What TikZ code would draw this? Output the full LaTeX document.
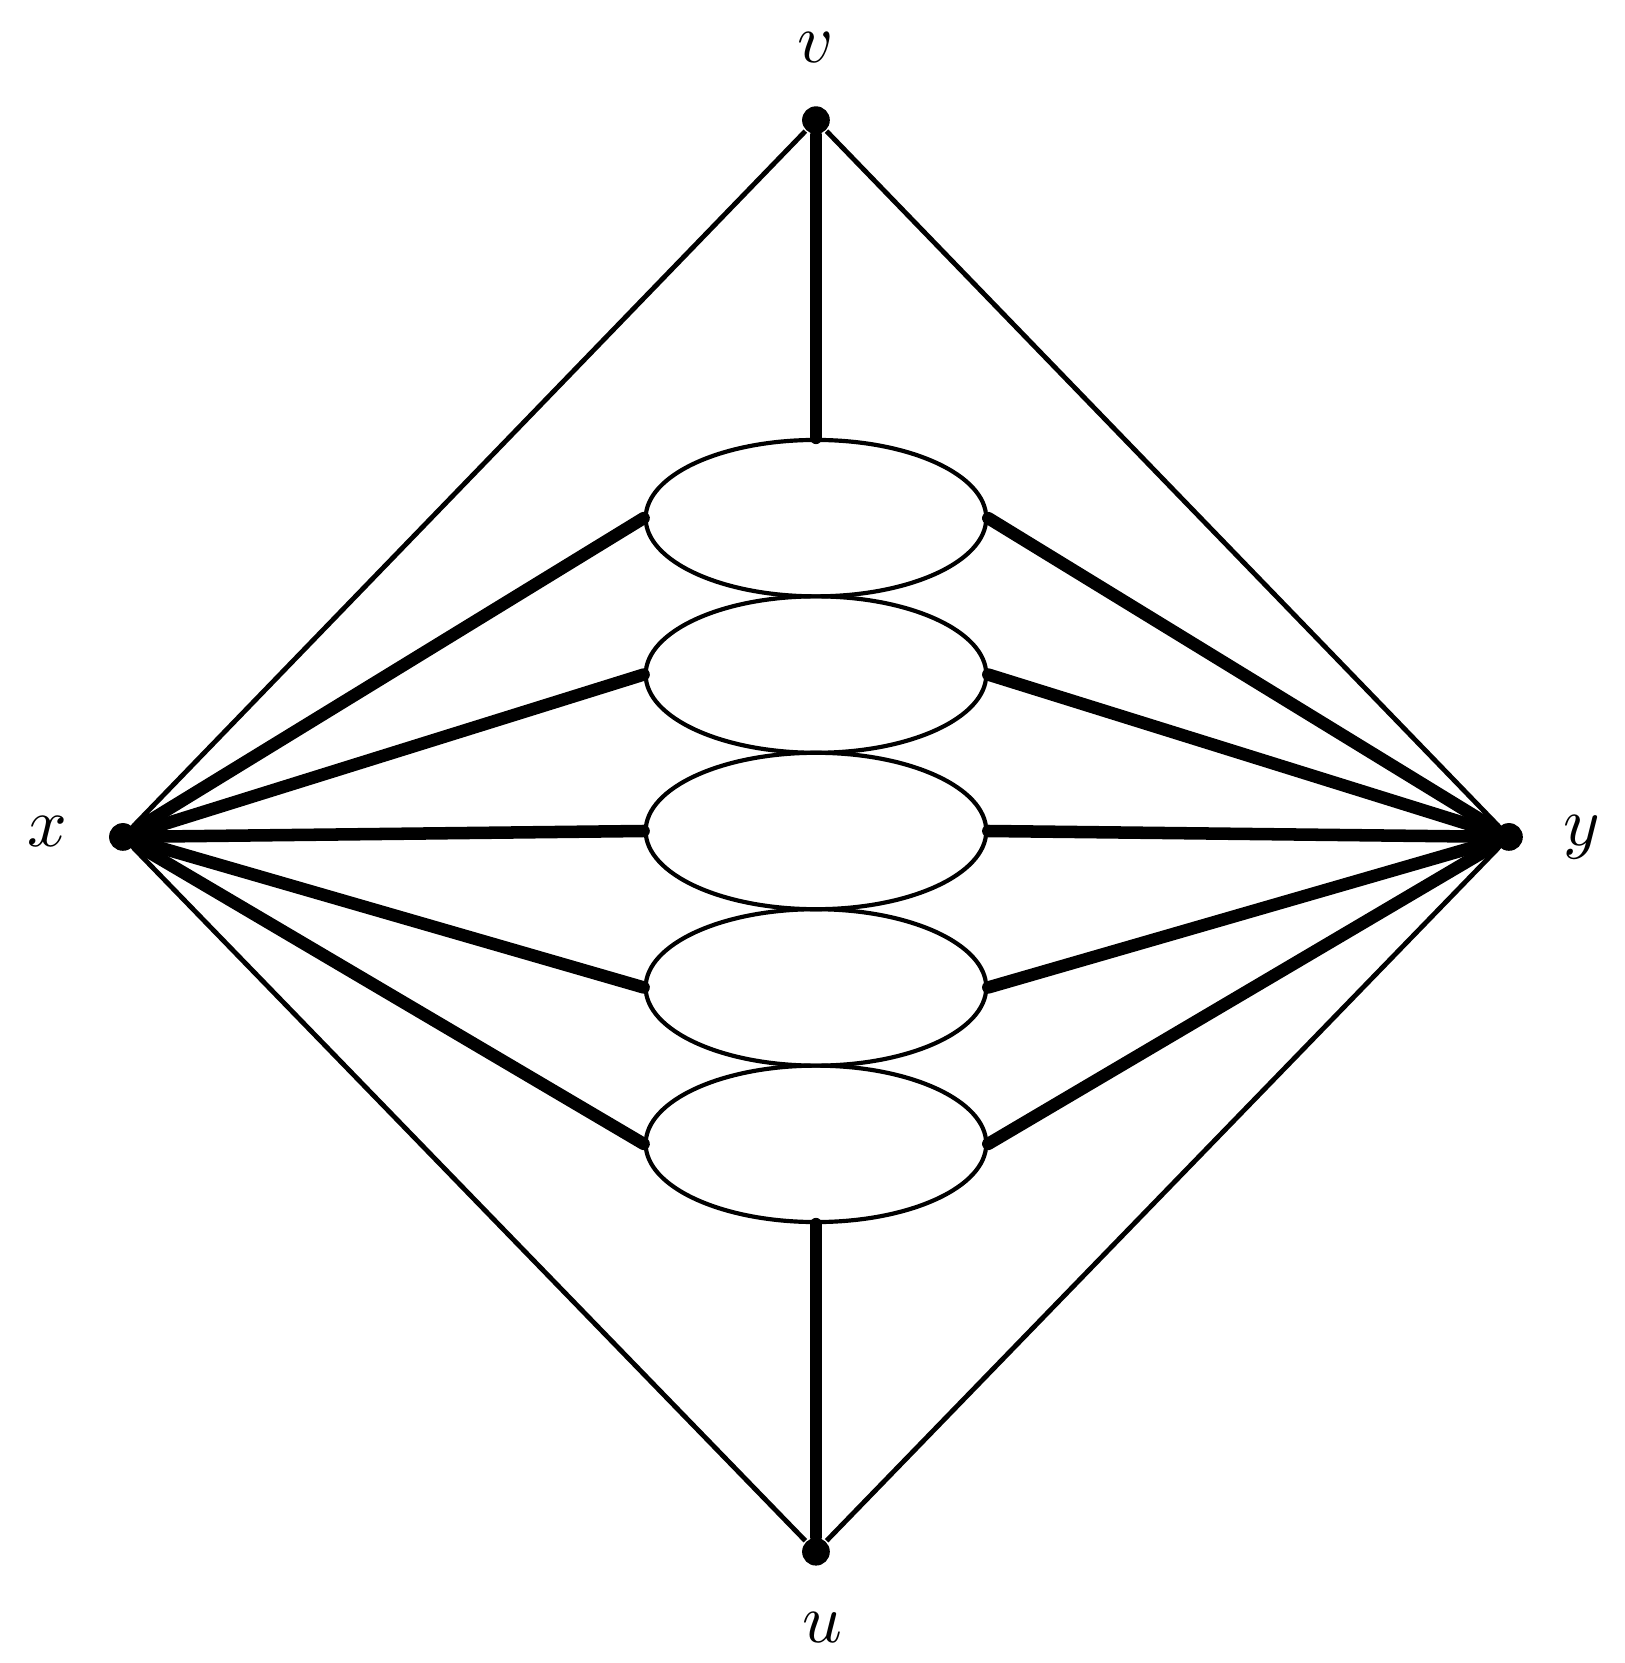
\documentclass[tikz,border=0pt]{standalone}
\usepackage{amsmath}
\usepackage{amssymb}
\usepackage{tikz}
\usetikzlibrary{shapes.geometric}

\begin{document}
\begin{tikzpicture}[scale=1,
  vertex/.style={circle,fill=black,inner sep=0pt,minimum size=0.14cm},
  blob/.style={ellipse,draw=black,line width=0.6pt,inner sep=0pt,minimum width=1.72cm,minimum height=0.79cm},
  heavy/.style={line width=1.8pt,line cap=round},
  light/.style={line width=0.7pt}]
\useasboundingbox (-4.121,-4.172) rectangle (4.081,4.227);

\node[vertex] (x) at (-3.5,0) {};
\node[vertex] (y) at (3.5,0) {};
\node[vertex] (v) at (0,3.62) {};
\node[vertex] (u) at (0,-3.61) {};

\node[blob] (e1) at (0,1.61) {};
\node[blob] (e2) at (0,0.82) {};
\node[blob] (e3) at (0,0.03) {};
\node[blob] (e4) at (0,-0.76) {};
\node[blob] (e5) at (0,-1.55) {};

\draw[light] (x) -- (v);
\draw[light] (v) -- (y);
\draw[light] (x) -- (u);
\draw[light] (u) -- (y);

\draw[heavy] (v) -- (e1.north);
\draw[heavy] (e5.south) -- (u);
\draw[heavy] (x) -- (e1.west);
\draw[heavy] (x) -- (e2.west);
\draw[heavy] (x) -- (e3.west);
\draw[heavy] (x) -- (e4.west);
\draw[heavy] (x) -- (e5.west);
\draw[heavy] (e1.east) -- (y);
\draw[heavy] (e2.east) -- (y);
\draw[heavy] (e3.east) -- (y);
\draw[heavy] (e4.east) -- (y);
\draw[heavy] (e5.east) -- (y);

\node (lv) at (0,3.985) {$v$};
\node (lu) at (0.035,-3.995) {$u$};
\node (lx) at (-3.88,0.025) {$x$};
\node (ly) at (3.87,0) {$y$};

\end{tikzpicture}
\end{document}
